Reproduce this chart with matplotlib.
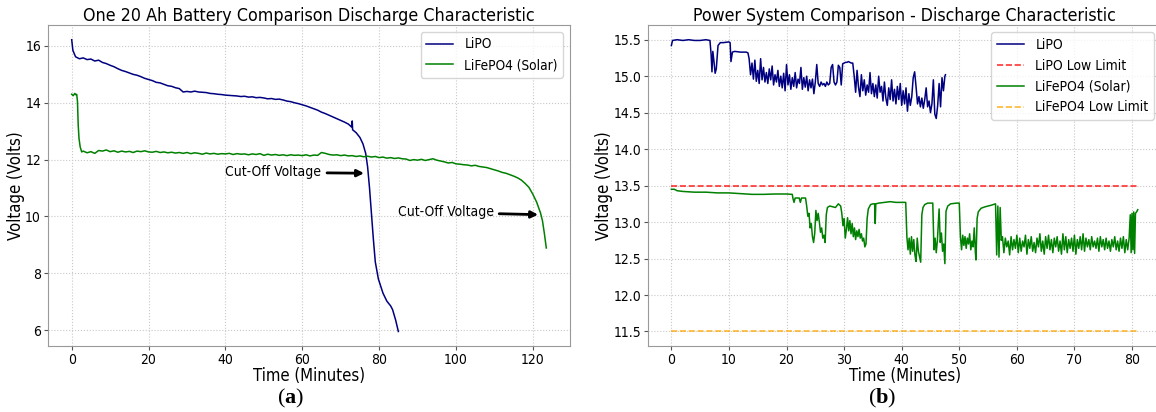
import numpy as np
import matplotlib
matplotlib.use("Agg")
import matplotlib.pyplot as plt

# ---- (a) one 20 Ah battery ----
lipo_a_head = [(0, 16.22), (0.3, 15.85)]
lipo_a_t0 = 1  # one value per minute from here
lipo_a_v = [
    15.62, 15.55, 15.58, 15.52, 15.54, 15.47, 15.50, 15.42, 15.38, 15.32,
    15.27, 15.20, 15.14, 15.10, 15.05, 15.00, 14.97, 14.92, 14.86, 14.82,
    14.78, 14.72, 14.70, 14.65, 14.60, 14.58, 14.53, 14.50, 14.38, 14.40,
    14.38, 14.41, 14.38, 14.37, 14.36, 14.33, 14.32, 14.30, 14.29, 14.27,
    14.26, 14.25, 14.24, 14.22, 14.23, 14.20, 14.21, 14.18, 14.19, 14.17,
    14.14, 14.15, 14.12, 14.13, 14.10, 14.06, 14.04, 14.00, 13.97, 13.93,
    13.89, 13.84, 13.79, 13.74, 13.67, 13.62, 13.56, 13.50, 13.44, 13.38,
    13.32, 13.25,
]
lipo_a_tail = [(72.8, 13.15), (73.0, 13.36), (73.1, 13.05), (74, 12.95), (75, 12.78),
               (75.8, 12.55), (76.5, 12.22), (77, 11.75), (77.5, 11.0), (78, 10.1),
               (78.5, 9.2), (79, 8.4), (79.8, 7.8), (81, 7.3), (82, 7.02), (83, 6.85),
               (83.5, 6.72), (84.3, 6.35), (85, 5.95)]

lfp_a_head = [(0, 14.30), (0.4, 14.25), (0.8, 14.33), (1.1, 14.28), (1.3, 14.30),
              (1.5, 14.05), (1.7, 13.2), (1.9, 12.75), (2.2, 12.45), (2.6, 12.27)]
lfp_a_t0 = 3
lfp_a_v = [
    12.30, 12.24, 12.28, 12.22, 12.32, 12.30, 12.34, 12.28, 12.31, 12.26,
    12.30, 12.27, 12.29, 12.25, 12.30, 12.28, 12.31, 12.27, 12.26, 12.29,
    12.25, 12.27, 12.24, 12.26, 12.23, 12.25, 12.22, 12.25, 12.21, 12.24,
    12.22, 12.19, 12.23, 12.20, 12.22, 12.19, 12.21, 12.20, 12.22, 12.18,
    12.21, 12.19, 12.20, 12.17, 12.20, 12.18, 12.21, 12.15, 12.19, 12.16,
    12.18, 12.15, 12.17, 12.14, 12.17, 12.15, 12.16, 12.14, 12.17, 12.13,
    12.16, 12.15, 12.25, 12.22, 12.18, 12.16, 12.17, 12.14, 12.16, 12.13,
    12.14, 12.11, 12.13, 12.10, 12.12, 12.09, 12.11, 12.07, 12.09, 12.05,
    12.07, 12.04, 12.06, 12.03, 12.02, 11.97, 12.00, 11.98, 12.01, 11.97,
    12.00, 12.03, 11.98, 11.95, 11.92, 11.88, 11.90, 11.85, 11.84, 11.82,
    11.81, 11.78, 11.80, 11.76, 11.74, 11.72, 11.68, 11.64, 11.60, 11.55,
    11.52, 11.47, 11.42, 11.36, 11.28, 11.16, 11.02, 10.78, 10.50, 10.12,
]
lfp_a_tail = [(122.5, 9.85), (123.0, 9.40), (123.5, 8.89)]

# ---- (b) power system comparison ----
lipo_b_head = [(0, 15.42), (0.2, 15.49), (1, 15.50), (2, 15.49), (3, 15.50), (4, 15.49),
               (5, 15.49), (6, 15.50), (6.7, 15.49), (6.9, 15.30), (7.05, 15.06),
               (7.2, 15.34), (7.4, 15.20), (7.6, 15.04), (7.8, 15.10), (8.1, 15.42),
               (8.5, 15.46), (9, 15.46), (10, 15.47), (10.2, 15.46), (10.35, 15.20),
               (10.6, 15.33), (11, 15.34), (12, 15.33), (13, 15.33), (13.3, 15.32)]
lipo_b_t0 = 13.5  # quarter-minute samples from here
lipo_b_v = [
    15.24, 15.02, 15.18, 14.96, 15.22, 14.93, 15.08, 14.90, 15.24, 14.95, 15.12, 14.92,
    15.05, 14.90, 15.10, 14.95, 15.14, 14.88, 15.02, 14.92, 15.08, 14.86, 15.00, 14.84,
    15.04, 14.80, 15.16, 14.88, 15.02, 14.82, 14.98, 14.86, 15.05, 14.84, 14.96, 14.90,
    15.12, 14.82, 14.98, 14.85, 15.00, 14.80, 14.95, 14.84, 14.96, 14.76, 14.92, 15.16,
    14.90, 14.86, 14.92, 14.88, 14.90, 14.86, 14.92, 14.88, 14.90, 15.12, 15.16, 14.92,
    14.88, 14.92, 15.15, 15.12, 14.88, 15.17, 15.18, 15.19, 15.19, 15.20, 15.19, 15.18,
    15.18, 15.00, 14.78, 15.08, 14.85, 14.72, 15.02, 14.80, 14.95, 14.74, 14.88, 14.78,
    15.05, 14.76, 14.90, 14.72, 14.88, 14.70, 15.00, 14.78, 14.86, 14.66, 14.92, 14.70,
    14.60, 14.84, 14.68, 14.95, 14.66, 14.82, 14.62, 14.86, 14.68, 14.90, 14.60, 14.80,
    14.62, 14.84, 14.52, 14.76, 14.60, 14.72, 14.98, 15.06, 14.85, 14.62, 14.72, 14.58,
    14.70, 14.56, 14.68, 14.84, 14.58, 14.66, 14.50, 14.62, 14.95, 14.48, 14.42, 14.60,
    14.90, 14.58, 14.98, 14.80, 15.00,
]
lipo_b_tail = [(47.6, 15.02)]

lfp_b_head = [
    (0, 13.45), (0.5, 13.45), (1, 13.43), (2, 13.42), (4, 13.41), (6, 13.41), (8, 13.40),
    (10, 13.40), (12, 13.39), (14, 13.38), (16, 13.38), (18, 13.385), (20, 13.385),
    (21, 13.38), (21.1, 13.33), (21.3, 13.27), (21.5, 13.33), (22.2, 13.33), (22.4, 13.27),
    (22.6, 13.33), (23.3, 13.33), (23.5, 13.22), (23.7, 13.08), (23.9, 13.12), (24.1, 12.92),
    (24.3, 12.98), (24.5, 12.80), (24.7, 12.72), (24.9, 12.85), (25.1, 13.16), (25.3, 13.02),
    (25.5, 13.12), (25.7, 13.00), (25.9, 12.86), (26.1, 12.92), (26.3, 12.78), (26.5, 12.82),
    (26.7, 12.72), (26.9, 13.10), (27.1, 13.20), (27.5, 13.22), (28, 13.21), (28.5, 13.20),
    (29, 13.25), (29.4, 13.22), (29.6, 13.12), (29.8, 12.95), (30.0, 13.05), (30.2, 12.78),
    (30.4, 12.90), (30.6, 13.06), (30.8, 12.88), (31.0, 13.02), (31.2, 12.84), (31.4, 12.98),
    (31.6, 12.80), (31.8, 12.92), (32.0, 12.76), (32.2, 12.88), (32.4, 12.80), (32.6, 12.90),
    (32.8, 12.78), (33.0, 12.84), (33.2, 12.74), (33.4, 12.78), (33.6, 12.66), (33.8, 12.70),
    (34.0, 13.05), (34.2, 13.18), (34.6, 13.24), (35.0, 13.25), (35.3, 13.25), (35.4, 12.98),
    (35.5, 13.25), (36, 13.26), (37, 13.27), (38, 13.28), (39, 13.27), (40, 13.27),
    (40.7, 13.27), (40.9, 12.80), (41.1, 12.62), (41.3, 12.78), (41.5, 12.56), (41.7, 12.80),
    (41.9, 12.60), (42.1, 12.76), (42.3, 12.55), (42.5, 12.46), (42.7, 12.78), (42.9, 12.60),
    (43.3, 12.45), (43.5, 13.10), (43.7, 13.20), (44.0, 13.24), (44.5, 13.26), (45, 13.26),
    (45.4, 13.26), (45.6, 12.62), (45.8, 12.78), (46.0, 12.58), (46.2, 12.75), (46.5, 13.18),
    (46.7, 12.72), (46.9, 12.85), (47.1, 12.60), (47.3, 12.70), (47.5, 12.43), (47.7, 13.15),
    (48.0, 13.22), (48.5, 13.25), (49.5, 13.26), (50.0, 13.26), (50.2, 12.80), (50.4, 12.62),
    (50.6, 12.82), (50.8, 12.68), (51.0, 12.80), (51.2, 12.64), (51.4, 12.78), (51.6, 12.70),
    (51.8, 12.84), (52.0, 12.62), (52.2, 12.74), (52.4, 12.66), (52.6, 12.92), (52.8, 12.58),
    (52.9, 12.48), (53.1, 13.05), (53.3, 13.14), (53.8, 13.19), (54.5, 13.21), (55.5, 13.23),
    (56.3, 13.25), (56.5, 12.55), (56.7, 13.22), (56.9, 12.52), (57.1, 13.20), (57.3, 12.75),
]
lfp_b_t0 = 57.5
lfp_b_v = [
    12.80, 12.58, 12.78, 12.66, 12.74, 12.55, 12.80, 12.62, 12.76, 12.64, 12.82, 12.58,
    12.78, 12.60, 12.74, 12.66, 12.82, 12.56, 12.76, 12.64, 12.80, 12.60, 12.72, 12.58,
    12.78, 12.66, 12.84, 12.60, 12.74, 12.56, 12.80, 12.64, 12.82, 12.62, 12.76, 12.58,
    12.78, 12.66, 12.80, 12.60, 12.74, 12.56, 12.84, 12.62, 12.80, 12.58, 12.76, 12.64,
    12.78, 12.60, 12.82, 12.56, 12.76, 12.64, 12.80, 12.62, 12.84, 12.60, 12.78, 12.66,
    12.76, 12.62, 12.80, 12.66, 12.74, 12.64, 12.78, 12.60, 12.80, 12.66, 12.76, 12.62,
    12.78, 12.64, 12.74, 12.60, 12.76, 12.66, 12.80, 12.62, 12.74, 12.60, 12.78, 12.64,
    12.80, 12.58, 12.76, 12.62, 12.78,
]
lfp_b_tail = [(79.7, 13.10), (79.85, 12.58), (80.0, 13.12), (80.15, 12.62), (80.3, 13.14),
              (80.45, 12.57), (80.6, 13.12), (80.8, 13.14), (81.0, 13.17)]

lipo_limit = 13.5
lfp_limit = 11.5
limit_span = [0, 81]


def build(head, t0, step, vals, tail):
    t = [p[0] for p in head] + list(t0 + step * np.arange(len(vals))) + [p[0] for p in tail]
    v = [p[1] for p in head] + list(vals) + [p[1] for p in tail]
    return np.array(t), np.array(v)


plt.rcParams['font.family'] = 'DejaVu Sans'
plt.rcParams['font.stretch'] = 'condensed'
plt.rcParams['mathtext.fontset'] = 'custom'
plt.rcParams['mathtext.bf'] = 'Liberation Serif:bold'
plt.rcParams['mathtext.rm'] = 'Liberation Serif'

fig = plt.figure(figsize=(11.56, 4.12), dpi=100)
ax1 = fig.add_axes([0.0415, 0.160, 0.4516, 0.779])
ax2 = fig.add_axes([0.5606, 0.160, 0.4438, 0.779])

t, v = build(lipo_a_head, lipo_a_t0, 1.0, lipo_a_v, lipo_a_tail)
ax1.plot(t, v, color='navy', lw=1.1, label='LiPO')
t, v = build(lfp_a_head, lfp_a_t0, 1.0, lfp_a_v, lfp_a_tail)
ax1.plot(t, v, color='green', lw=1.1, label='LiFePO4 (Solar)')

arrow = dict(arrowstyle='-|>', color='black', lw=2, mutation_scale=10)
ax1.annotate('Cut-Off Voltage', xy=(76.8, 11.52), xytext=(65.0, 11.55),
             ha='right', va='center', fontsize=10, arrowprops=arrow)
ax1.annotate('Cut-Off Voltage', xy=(122.1, 10.06), xytext=(109.8, 10.14),
             ha='right', va='center', fontsize=10, arrowprops=arrow)

ax1.set_title('One 20 Ah Battery Comparison Discharge Characteristic', fontsize=12.8, pad=3)
ax1.set_xlabel('Time (Minutes)', fontsize=12, labelpad=0)
ax1.set_ylabel('Voltage (Volts)', fontsize=12, labelpad=0)
ax1.legend(loc='upper right', fontsize=9.8)

t, v = build(lipo_b_head, lipo_b_t0, 0.25, lipo_b_v, lipo_b_tail)
ax2.plot(t, v, color='navy', lw=1.1, label='LiPO')
ax2.plot(limit_span, [lipo_limit] * 2, color='red', ls='--', lw=1.2, alpha=0.8, label='LiPO Low Limit')
t, v = build(lfp_b_head, lfp_b_t0, 0.25, lfp_b_v, lfp_b_tail)
ax2.plot(t, v, color='green', lw=1.1, label='LiFePO4 (Solar)')
ax2.plot(limit_span, [lfp_limit] * 2, color='orange', ls='--', lw=1.2, alpha=0.8, label='LiFePO4 Low Limit')

ax2.set_title('Power System Comparison - Discharge Characteristic', fontsize=12.7, pad=3)
ax2.set_xlabel('Time (Minutes)', fontsize=12, labelpad=0)
ax2.set_ylabel('Voltage (Volts)', fontsize=12, labelpad=0)
ax2.set_xticks(range(0, 81, 10))
ax2.legend(loc='upper right', fontsize=10)

for ax in (ax1, ax2):
    ax.grid(True, ls=':', color='#c8c8c8', lw=0.8)
    ax.tick_params(labelsize=10, color='#555555', length=3, pad=2)
    for s in ax.spines.values():
        s.set_color('#999999')

fig.text(0.2517, 0.034, r'($\mathbf{a}$)', fontsize=16, ha='center', va='center', family='Liberation Serif')
fig.text(0.7630, 0.034, r'($\mathbf{b}$)', fontsize=16, ha='center', va='center', family='Liberation Serif')

fig.savefig('out.png', dpi=100)
